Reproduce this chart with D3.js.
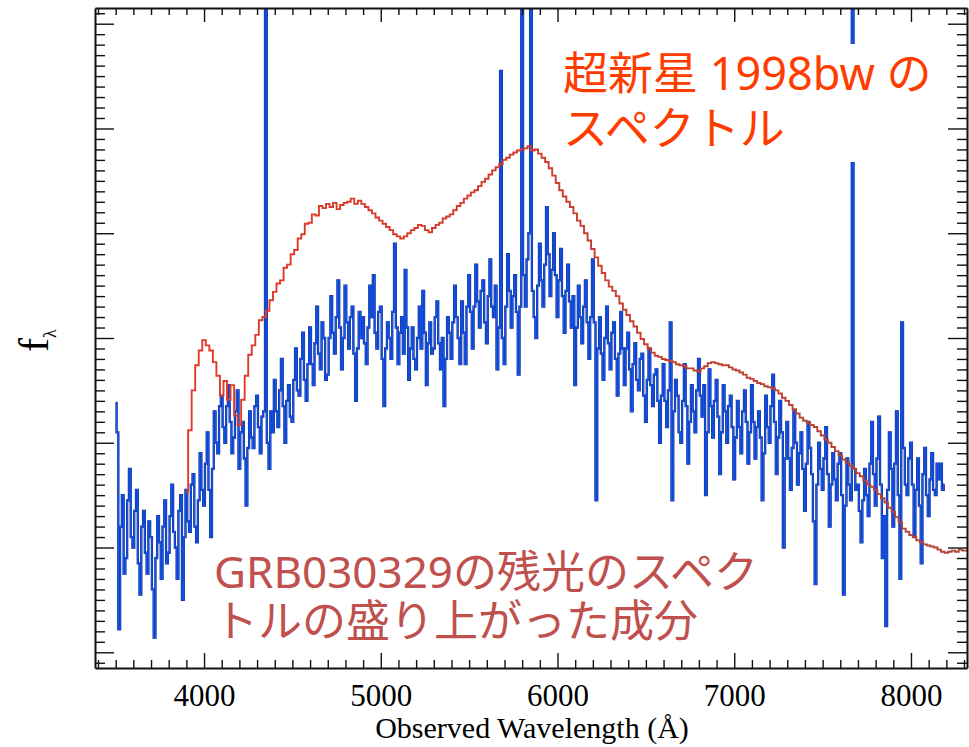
<!DOCTYPE html>
<html>
<head>
<meta charset="utf-8">
<script src="https://cdn.jsdelivr.net/npm/d3@7"></script>
<style>
  html, body { margin: 0; padding: 0; background: #fff; }
  svg { display: block; }
</style>
</head>
<body>
<svg id="chart" width="969" height="747"></svg>
<script>
// Afterglow spectrum of GRB030329 (blue) and spectrum of SN 1998bw (red).
// Flux in arbitrary units, one unit per major y tick.

const blueStart = 3500, blueStep = 10;
const blueFlux = [
  2.38, 2.1, 0.22, 1.2, 1.5, 0.75, 0.9, 1.45, 1.75, 1.1,
  1.0, 1.35, 1.55, 0.85, 0.55, 1.2, 1.35, 0.95, 0.75, 1.25,
  1.1, 0.6, 0.14, 0.9, 1.3, 1.05, 0.7, 1.2, 1.45, 0.85,
  0.95, 1.3, 1.6, 1.15, 1.0, 0.7, 1.35, 1.5, 0.5, 1.1,
  1.55, 1.25, 1.15, 1.6, 1.7, 1.2, 1.05, 1.45, 1.9, 1.55,
  1.4, 1.8, 2.1, 1.55, 1.1, 1.75, 2.3, 2.0, 1.9, 2.35,
  2.45, 2.15, 2.0, 2.35, 2.55, 2.2, 1.9, 2.05, 2.3, 2.5,
  1.75, 2.1, 2.2, 1.85, 1.4, 1.95, 2.3, 2.05, 1.95, 2.35,
  2.45, 2.15, 1.9, 2.25, 2.3, 7.5, 2.0, 1.75, 2.3, 2.1,
  2.6, 2.3, 2.15, 2.5, 2.8, 2.35, 2.0, 2.4, 2.55, 2.25,
  2.2, 2.6, 2.9, 2.5, 2.45, 2.8, 3.05, 2.6, 2.4, 2.75,
  3.1, 2.75, 2.55, 2.95, 3.3, 2.85, 2.7, 3.15, 3.0, 2.6,
  2.65, 3.0, 3.4, 3.05, 2.85, 3.2, 3.55, 3.1, 2.7, 3.0,
  3.5, 3.15, 2.9, 3.2, 3.3, 2.85, 2.4, 2.9, 3.25, 3.0,
  3.2, 2.95, 2.75, 3.1, 3.5, 3.2, 3.6, 3.05, 2.9, 3.25,
  3.3, 2.8, 2.35, 2.9, 3.15, 3.0, 2.8, 3.25, 3.9, 3.1,
  2.75, 3.05, 3.2, 2.85, 3.65, 3.1, 2.6, 2.9, 3.1, 2.8,
  2.7, 3.0, 3.3, 2.9, 3.45, 3.05, 2.55, 2.95, 3.15, 2.85,
  2.9, 3.2, 3.35, 2.95, 2.7, 3.0, 2.35, 2.8, 3.2, 3.05,
  2.8, 3.15, 3.5, 3.2, 3.0, 2.75, 3.35, 3.05, 2.75, 3.3,
  3.6, 3.25, 2.9, 3.3, 3.7, 3.35, 3.1, 3.45, 3.55, 3.15,
  2.95, 3.4, 3.75, 3.3, 3.2, 3.5, 2.7, 3.1, 5.55, 3.0,
  2.75, 3.3, 3.8, 3.45, 3.1, 3.4, 3.6, 3.25, 2.65, 3.3,
  7.5, 3.6, 3.3, 3.75, 4.0, 7.2, 3.45, 3.2, 3.0, 3.5,
  3.9, 3.55, 3.3, 3.7, 4.25, 3.8, 3.4, 3.65, 4.0, 3.6,
  3.2, 3.55, 3.85, 3.4, 3.05, 3.45, 3.7, 3.35, 3.1, 3.4,
  2.55, 3.1, 3.5, 3.2, 2.95, 3.3, 3.55, 3.15, 2.8, 3.2,
  3.75, 3.15, 1.45, 2.9, 3.2, 2.85, 2.6, 3.0, 3.3, 2.95,
  2.7, 3.05, 3.15, 2.8, 2.45, 2.85, 3.25, 2.9, 2.55, 2.9,
  3.05, 2.7, 2.3, 2.75, 2.95, 2.6, 2.5, 2.8, 2.85, 2.45,
  2.2, 2.6, 2.9, 2.55, 2.35, 2.65, 2.7, 2.4, 2.0, 2.45,
  2.75, 2.4, 2.15, 2.5, 3.15, 1.45, 2.3, 2.6, 2.45, 2.1,
  2.0, 2.4, 2.75, 2.35, 1.8, 2.2, 2.55, 2.3, 2.1, 2.5,
  2.8, 2.45, 2.25, 2.55, 1.5, 2.1, 2.7, 2.35, 2.05, 2.4,
  2.6, 2.25, 1.7, 2.1, 2.55, 2.3, 2.0, 2.35, 2.45, 2.15,
  1.65, 2.05, 2.4, 2.15, 1.9, 2.3, 2.5, 2.2, 1.8, 2.1,
  2.55, 2.2, 1.85, 2.15, 2.3, 2.05, 1.45, 1.9, 2.45, 2.15,
  2.0, 2.35, 2.65, 2.2, 1.7, 2.05, 2.4, 2.1, 1.0, 1.85,
  2.2, 1.85, 1.55, 1.95, 2.3, 2.0, 1.6, 1.9, 2.1, 1.75,
  1.35, 1.8, 2.2, 1.95, 1.7, 1.25, 0.65, 1.6, 2.0, 1.75,
  1.55, 1.85, 2.15, 1.7, 1.2, 1.6, 1.9, 1.65, 1.45, 1.8,
  1.9, 1.5, 0.55, 1.4, 1.85, 1.6, 1.45, 6.8, 1.75, 1.55,
  1.6, 1.35, 1.05, 1.45, 1.75, 1.5, 1.3, 1.8, 2.2, 1.7,
  1.4, 1.85, 2.25, 1.6, 0.9, 1.3, 0.25, 1.55, 2.1, 1.75,
  1.2, 1.8, 2.3, 1.5, 0.7, 3.15, 1.95, 1.6, 1.5, 1.85,
  2.0, 1.6, 1.1, 1.55, 1.85, 1.4, 0.85, 1.7, 1.95, 1.5,
  1.3, 1.65, 1.9, 1.55, 1.5, 1.8, 1.65, 1.8, 1.55, 1.6
];

const redStart = 3900, redStep = 20;
const redFlux = [
  1.53, 2.12, 2.50, 2.74, 2.88,
  2.98, 2.93, 2.88, 2.77, 2.64,
  2.45, 2.59, 2.41, 2.55, 2.26,
  2.17, 2.41, 2.64, 2.84, 2.93,
  3.03, 3.17, 3.20, 3.26, 3.36,
  3.44, 3.52, 3.55, 3.67, 3.70,
  3.80, 3.84, 3.95, 3.99, 4.09,
  4.10, 4.18, 4.17, 4.26, 4.24,
  4.28, 4.25, 4.29, 4.23, 4.27,
  4.29, 4.30, 4.33, 4.28, 4.31,
  4.28, 4.25, 4.22, 4.19, 4.15,
  4.12, 4.09, 4.06, 4.03, 3.99,
  3.97, 3.95, 3.97, 4.00, 4.03,
  4.05, 4.08, 4.07, 4.03, 4.01,
  4.05, 4.08, 4.10, 4.14, 4.16,
  4.18, 4.22, 4.26, 4.29, 4.33,
  4.36, 4.39, 4.41, 4.45, 4.49,
  4.52, 4.56, 4.60, 4.63, 4.66,
  4.70, 4.72, 4.75, 4.77, 4.79,
  4.80, 4.81, 4.83, 4.79, 4.80,
  4.76, 4.72, 4.68, 4.62, 4.55,
  4.48, 4.41, 4.35, 4.30, 4.25,
  4.19, 4.12, 4.07, 4.00, 3.93,
  3.85, 3.77, 3.69, 3.62, 3.55,
  3.49, 3.45, 3.40, 3.33, 3.27,
  3.22, 3.16, 3.11, 3.05, 2.99,
  2.94, 2.90, 2.86, 2.83, 2.82,
  2.80, 2.79, 2.78, 2.77, 2.75,
  2.74, 2.73, 2.71, 2.71, 2.69,
  2.68, 2.71, 2.73, 2.76, 2.77,
  2.76, 2.75, 2.74, 2.74, 2.72,
  2.70, 2.69, 2.67, 2.65, 2.62,
  2.61, 2.59, 2.57, 2.56, 2.54,
  2.53, 2.52, 2.50, 2.47, 2.43,
  2.40, 2.36, 2.32, 2.28, 2.24,
  2.21, 2.19, 2.17, 2.15, 2.11,
  2.07, 2.03, 2.00, 1.96, 1.92,
  1.88, 1.84, 1.81, 1.78, 1.75,
  1.71, 1.68, 1.64, 1.60, 1.58,
  1.55, 1.51, 1.47, 1.43, 1.38,
  1.34, 1.29, 1.24, 1.18, 1.15,
  1.12, 1.10, 1.07, 1.05, 1.03,
  1.02, 1.01, 1.00, 0.98, 0.96,
  0.95, 0.96, 0.97, 0.96, 0.98,
  0.97, 0.97
];

const xMajorTicks = [4000, 5000, 6000, 7000, 8000];
const xTickLabels = ["4000", "5000", "6000", "7000", "8000"];
const yMajorTicks = [0, 1, 2, 3, 4, 5, 6];

const xLabel = "Observed Wavelength (Å)";
const snLabel = ["超新星 1998bw の", "スペクトル"];
const grbLabel = ["GRB030329の残光のスペク", "トルの盛り上がった成分"];

const svg = d3.select("#chart");
const W = 969, H = 747;
const plotL = 95, plotR = 967, plotT = 8, plotB = 668;

svg.append("rect").attr("width", W).attr("height", H).attr("fill", "#fff");

const x = d3.scaleLinear().domain([3383, 8317]).range([plotL, plotR]);
const y = d3.scaleLinear().domain([-0.15, 6.15]).range([plotB, plotT]);

const xMinorTicks = d3.range(3400, 8400, 100).filter(v => v % 1000 !== 0);
const yMinorTicks = d3.range(-1, 62).map(v => v / 10).filter(v => Math.round(v * 10) % 10 !== 0);

const blue = blueFlux.map((v, i) => ({ w: blueStart + i * blueStep, f: v }));
const red = redFlux.map((v, i) => ({ w: redStart + i * redStep, f: v }));

const defs = svg.append("defs");
defs.append("clipPath").attr("id", "plotClip")
  .append("rect").attr("x", plotL).attr("y", plotT)
  .attr("width", plotR - plotL).attr("height", plotB - plotT);

// SN spectrum stroke: brighter red on the blue side, browner on the red side
const grad = defs.append("linearGradient").attr("id", "snStroke")
  .attr("gradientUnits", "userSpaceOnUse")
  .attr("x1", x(3900)).attr("x2", x(8300)).attr("y1", 0).attr("y2", 0);
grad.append("stop").attr("offset", "0%").attr("stop-color", "#e23b27");
grad.append("stop").attr("offset", "45%").attr("stop-color", "#cf3b2c");
grad.append("stop").attr("offset", "100%").attr("stop-color", "#b04538");

const line = d3.line().x(d => x(d.w)).y(d => y(d.f)).curve(d3.curveStep);

const plot = svg.append("g").attr("clip-path", "url(#plotClip)");

plot.append("path").datum(blue)
  .attr("d", line).attr("fill", "none")
  .attr("stroke", "#0f2a80").attr("stroke-width", 2.3);
plot.append("path").datum(blue)
  .attr("d", line).attr("fill", "none")
  .attr("stroke", "#1454ec").attr("stroke-width", 1.4);

plot.append("path").datum(red)
  .attr("d", line).attr("fill", "none")
  .attr("stroke", "url(#snStroke)").attr("stroke-width", 1.9);

// Axes: inward ticks on all four sides
function styleAxis(g) {
  g.selectAll(".domain").attr("stroke", "#111").attr("stroke-width", 2);
  g.selectAll(".tick line").attr("stroke", "#111").attr("stroke-width", 1.4);
}

const bottomAxis = svg.append("g").attr("transform", `translate(0,${plotB})`)
  .call(d3.axisBottom(x).tickValues(xMajorTicks)
    .tickFormat((d, i) => xTickLabels[i]).tickSizeInner(-15).tickSizeOuter(0).tickPadding(16));
bottomAxis.selectAll("text")
  .attr("font-family", "'Liberation Serif', 'Times New Roman', serif")
  .attr("font-size", 31).attr("fill", "#000");
styleAxis(bottomAxis);
svg.append("g").attr("transform", `translate(0,${plotB})`)
  .call(d3.axisBottom(x).tickValues(xMinorTicks).tickFormat("").tickSizeInner(-8).tickSizeOuter(0))
  .call(g => g.select(".domain").remove()).call(styleAxis);

const topAxis = svg.append("g").attr("transform", `translate(0,${plotT})`)
  .call(d3.axisTop(x).tickValues(xMajorTicks).tickFormat("").tickSizeInner(-14).tickSizeOuter(0));
styleAxis(topAxis);
svg.append("g").attr("transform", `translate(0,${plotT})`)
  .call(d3.axisTop(x).tickValues(xMinorTicks).tickFormat("").tickSizeInner(-7).tickSizeOuter(0))
  .call(g => g.select(".domain").remove()).call(styleAxis);

const leftAxis = svg.append("g").attr("transform", `translate(${plotL},0)`)
  .call(d3.axisLeft(y).tickValues(yMajorTicks).tickFormat("").tickSizeInner(-19).tickSizeOuter(0));
styleAxis(leftAxis);
svg.append("g").attr("transform", `translate(${plotL},0)`)
  .call(d3.axisLeft(y).tickValues(yMinorTicks).tickFormat("").tickSizeInner(-10).tickSizeOuter(0))
  .call(g => g.select(".domain").remove()).call(styleAxis);

const rightAxis = svg.append("g").attr("transform", `translate(${plotR},0)`)
  .call(d3.axisRight(y).tickValues(yMajorTicks).tickFormat("").tickSizeInner(-19).tickSizeOuter(0));
styleAxis(rightAxis);
svg.append("g").attr("transform", `translate(${plotR},0)`)
  .call(d3.axisRight(y).tickValues(yMinorTicks).tickFormat("").tickSizeInner(-10).tickSizeOuter(0))
  .call(g => g.select(".domain").remove()).call(styleAxis);

// Axis titles
svg.append("text")
  .attr("x", 532).attr("y", 738)
  .attr("text-anchor", "middle")
  .attr("font-family", "'Liberation Serif', 'Times New Roman', serif")
  .attr("font-size", 30).attr("fill", "#000")
  .text(xLabel);

const yTitle = svg.append("text")
  .attr("transform", "translate(48,352) rotate(-90)")
  .attr("font-family", "'Liberation Serif', 'Times New Roman', serif")
  .attr("font-size", 42).attr("fill", "#000");
yTitle.append("tspan").text("f");
yTitle.append("tspan").attr("font-size", 18).attr("dy", 8).text("λ");

// Annotation for the SN 1998bw spectrum, on a white panel
svg.append("rect").attr("x", 558).attr("y", 44).attr("width", 304).attr("height", 118).attr("fill", "#fff");
const snText = svg.append("g")
  .attr("font-family", "'Noto Sans', 'Noto Sans CJK JP', sans-serif")
  .attr("font-size", 45).attr("fill", "#ff3c00");
snLabel.forEach((t, i) => snText.append("text").attr("x", 563).attr("y", 90 + i * 55).text(t));

// Annotation for the GRB afterglow bump
const grbText = svg.append("g")
  .attr("font-family", "'Noto Sans', 'Noto Sans CJK JP', sans-serif")
  .attr("font-size", 44).attr("fill", "#c0504d");
grbLabel.forEach((t, i) => grbText.append("text").attr("x", 214).attr("y", 588 + i * 49).text(t));
</script>
</body>
</html>
